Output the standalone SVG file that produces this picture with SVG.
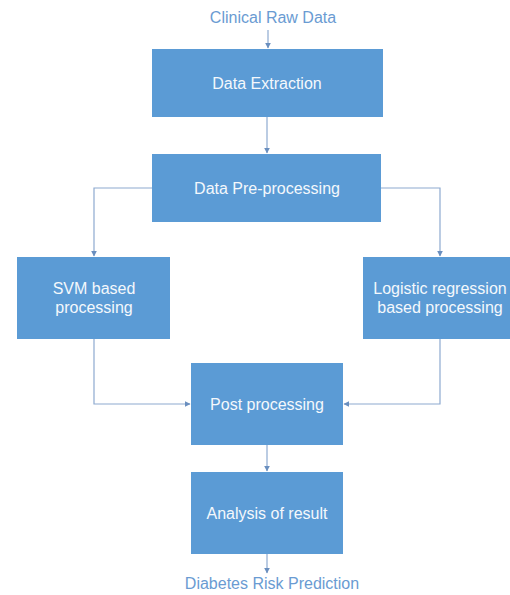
<svg xmlns="http://www.w3.org/2000/svg" width="510" height="595" viewBox="0 0 510 595">
<style>
.box{fill:#5b9bd5;}
.t{font-family:"Liberation Sans",Arial,sans-serif;font-size:16px;fill:#f4f8fc;text-anchor:middle;}
.lbl{font-family:"Liberation Sans",Arial,sans-serif;font-size:16px;fill:#6a9bd2;text-anchor:middle;}
.c{fill:none;stroke:#8eaad0;stroke-width:1.2;}
</style>
<defs>
<marker id="a" viewBox="0 0 10 10" refX="9" refY="5" markerWidth="6" markerHeight="6" orient="auto" markerUnits="userSpaceOnUse">
<path d="M0,0 L10,5 L0,10 z" fill="#6a8fbf"/>
</marker>
</defs>
<rect width="510" height="595" fill="#ffffff"/>
<g id="connectors">
<path class="c" d="M268,30 V48" marker-end="url(#a)"/>
<path class="c" d="M267,117 V153" marker-end="url(#a)"/>
<path class="c" d="M152,188 H94 V256" marker-end="url(#a)"/>
<path class="c" d="M381,188 H440 V256" marker-end="url(#a)"/>
<path class="c" d="M94,339 V404 H190" marker-end="url(#a)"/>
<path class="c" d="M440,339 V404 H344" marker-end="url(#a)"/>
<path class="c" d="M267,445 V471" marker-end="url(#a)"/>
<path class="c" d="M267,554 V573" marker-end="url(#a)"/>
</g>
<g id="clinical-raw-data"><text class="lbl" x="273" y="23">Clinical Raw Data</text></g>
<g id="data-extraction"><rect class="box" x="152" y="49" width="231" height="68"/><text class="t" x="267" y="89">Data Extraction</text></g>
<g id="data-preprocessing"><rect class="box" x="152" y="154" width="229" height="68"/><text class="t" x="267" y="194">Data Pre-processing</text></g>
<g id="svm"><rect class="box" x="17" y="257" width="153" height="82"/><text class="t" x="94" y="294">SVM based</text><text class="t" x="94" y="313">processing</text></g>
<g id="logistic"><rect class="box" x="363" y="257" width="155" height="82"/><text class="t" x="440" y="294">Logistic regression</text><text class="t" x="440" y="313">based processing</text></g>
<g id="post-processing"><rect class="box" x="191" y="363" width="152" height="82"/><text class="t" x="267" y="410">Post processing</text></g>
<g id="analysis"><rect class="box" x="191" y="472" width="152" height="82"/><text class="t" x="267" y="519">Analysis of result</text></g>
<g id="diabetes-risk"><text class="lbl" x="272" y="589">Diabetes Risk Prediction</text></g>
</svg>
